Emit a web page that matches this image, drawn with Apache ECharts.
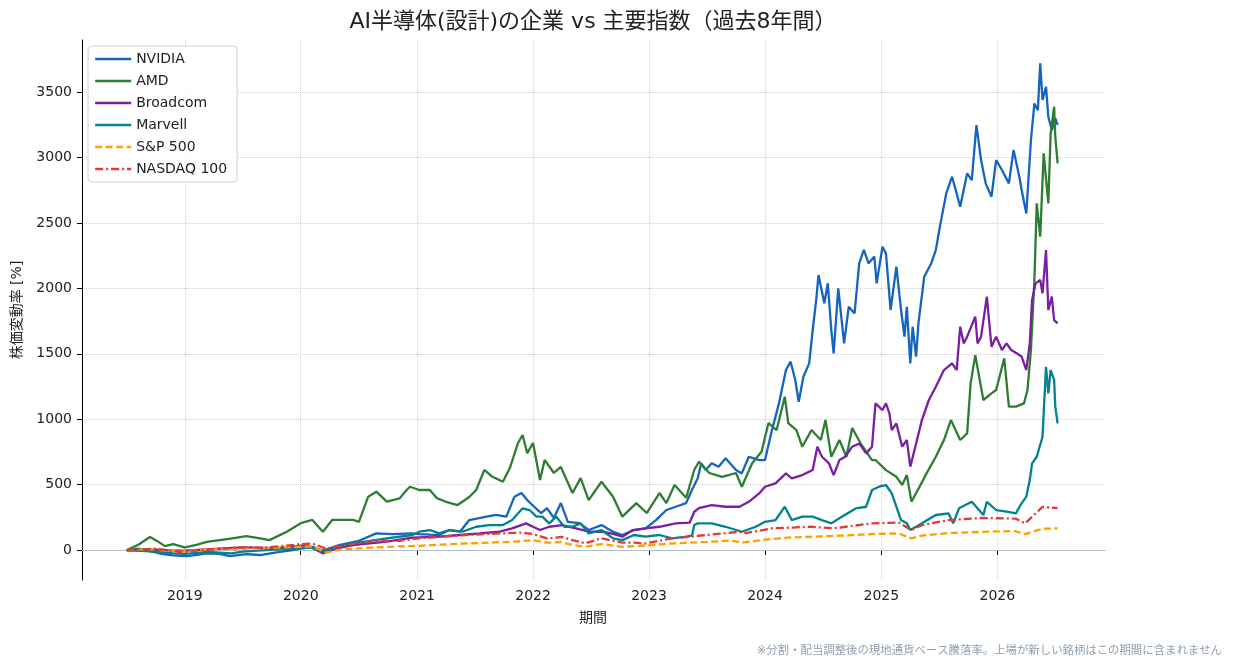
<!DOCTYPE html>
<html><head><meta charset="utf-8">
<script src="https://cdn.jsdelivr.net/npm/echarts@6/dist/echarts.min.js"></script>
<style>html,body{margin:0;padding:0;background:#fff}#c{width:1234px;height:668px}</style>
</head><body><div id="c"></div><script>
const FONT = '"DejaVu Sans","Noto Sans CJK JP",sans-serif';
const titleText = 'AI半導体(設計)の企業 vs 主要指数（過去8年間）';
const yAxisName = '株価変動率 [%]';
const xAxisName = '期間';
const footnote = '※分割・配当調整後の現地通貨ベース騰落率。上場が新しい銘柄はこの期間に含まれません';
const seriesNames = ['NVIDIA', 'AMD', 'Broadcom', 'Marvell', 'S&P 500', 'NASDAQ 100'];
const seriesColors = ['#1565C0', '#2E7D32', '#7B1FA2', '#00838F', '#FFA000', '#E53935'];

// [decimal year, % change]
const nvidia = [[2018.50,0],[2018.60,10],[2018.72,-12],[2018.80,-30],[2018.90,-40],[2019.02,-46],[2019.12,-35],[2019.19,-25],[2019.30,-30],[2019.39,-46],[2019.53,-31],[2019.65,-38],[2019.79,-18],[2019.93,0],[2020.00,13],[2020.10,25],[2020.19,-5],[2020.33,38],[2020.50,71],[2020.65,127],[2020.79,122],[2020.96,127],[2021.02,122],[2021.11,118],[2021.19,115],[2021.28,153],[2021.37,140],[2021.45,229],[2021.60,255],[2021.68,268],[2021.77,255],[2021.84,408],[2021.90,436],[2021.95,382],[2022.01,331],[2022.07,283],[2022.12,321],[2022.18,245],[2022.24,359],[2022.30,216],[2022.40,206],[2022.48,153],[2022.59,191],[2022.69,140],[2022.77,115],[2022.87,153],[2022.97,165],[2023.06,229],[2023.15,306],[2023.23,331],[2023.32,359],[2023.37,459],[2023.42,548],[2023.45,663],[2023.49,612],[2023.54,663],[2023.60,637],[2023.66,701],[2023.75,612],[2023.80,586],[2023.86,713],[2023.95,688],[2024.00,688],[2024.06,917],[2024.12,1121],[2024.18,1376],[2024.22,1440],[2024.26,1300],[2024.29,1134],[2024.33,1325],[2024.38,1427],[2024.41,1682],[2024.44,1911],[2024.46,2102],[2024.51,1886],[2024.54,2039],[2024.57,1682],[2024.59,1503],[2024.63,2000],[2024.68,1580],[2024.72,1860],[2024.77,1809],[2024.81,2192],[2024.85,2294],[2024.89,2192],[2024.94,2243],[2024.96,2039],[2025.01,2319],[2025.04,2268],[2025.08,1835],[2025.13,2166],[2025.17,1835],[2025.20,1631],[2025.22,1860],[2025.25,1427],[2025.27,1707],[2025.30,1478],[2025.32,1733],[2025.37,2089],[2025.43,2191],[2025.47,2293],[2025.51,2497],[2025.56,2726],[2025.61,2854],[2025.65,2726],[2025.68,2624],[2025.74,2879],[2025.78,2828],[2025.82,3249],[2025.86,2981],[2025.90,2803],[2025.95,2701],[2025.99,2981],[2026.04,2905],[2026.10,2803],[2026.14,3058],[2026.19,2854],[2026.21,2752],[2026.25,2573],[2026.29,3134],[2026.32,3414],[2026.35,3363],[2026.37,3720],[2026.39,3440],[2026.42,3542],[2026.44,3312],[2026.47,3210],[2026.50,3300],[2026.52,3250]];
const amd = [[2018.50,0],[2018.60,40],[2018.70,100],[2018.76,70],[2018.83,30],[2018.90,45],[2019.00,20],[2019.10,40],[2019.19,63],[2019.30,76],[2019.41,90],[2019.53,107],[2019.65,90],[2019.73,76],[2019.88,140],[2020.00,205],[2020.10,230],[2020.19,140],[2020.27,230],[2020.45,230],[2020.50,216],[2020.58,408],[2020.65,446],[2020.74,370],[2020.85,395],[2020.91,459],[2020.94,484],[2021.02,459],[2021.11,459],[2021.17,397],[2021.25,369],[2021.35,344],[2021.45,405],[2021.51,459],[2021.58,612],[2021.65,560],[2021.74,522],[2021.80,627],[2021.87,818],[2021.91,879],[2021.95,741],[2022.00,818],[2022.06,535],[2022.10,688],[2022.18,589],[2022.24,635],[2022.34,436],[2022.41,550],[2022.48,382],[2022.59,522],[2022.69,408],[2022.77,255],[2022.89,359],[2022.98,283],[2023.09,436],[2023.15,359],[2023.22,497],[2023.32,400],[2023.39,612],[2023.43,675],[2023.52,589],[2023.63,560],[2023.75,589],[2023.80,484],[2023.89,665],[2023.97,752],[2024.03,971],[2024.10,917],[2024.17,1172],[2024.20,971],[2024.27,917],[2024.32,790],[2024.40,917],[2024.48,841],[2024.52,994],[2024.57,713],[2024.64,841],[2024.70,713],[2024.75,933],[2024.82,818],[2024.92,688],[2024.95,688],[2025.04,611],[2025.13,560],[2025.18,497],[2025.22,573],[2025.26,370],[2025.33,484],[2025.39,586],[2025.47,713],[2025.54,841],[2025.60,994],[2025.64,917],[2025.68,841],[2025.74,892],[2025.77,1274],[2025.81,1490],[2025.88,1147],[2025.95,1198],[2025.99,1223],[2026.06,1465],[2026.10,1096],[2026.16,1096],[2026.23,1121],[2026.26,1223],[2026.29,1529],[2026.32,2064],[2026.34,2650],[2026.37,2395],[2026.40,3032],[2026.44,2650],[2026.46,3185],[2026.49,3389],[2026.50,3160],[2026.52,2956]];
const broadcom = [[2018.50,-5],[2018.70,5],[2018.90,-5],[2019.00,-5],[2019.30,10],[2019.50,20],[2019.80,15],[2020.05,38],[2020.19,-25],[2020.30,10],[2020.45,38],[2020.74,64],[2020.96,95],[2021.19,102],[2021.37,115],[2021.54,127],[2021.71,140],[2021.82,166],[2021.94,204],[2022.00,178],[2022.06,153],[2022.14,178],[2022.25,191],[2022.37,166],[2022.48,140],[2022.60,140],[2022.70,122],[2022.77,102],[2022.86,153],[2022.97,166],[2023.09,178],[2023.23,204],[2023.35,209],[2023.39,293],[2023.43,320],[2023.54,344],[2023.66,331],[2023.78,331],[2023.86,369],[2023.95,433],[2024.00,484],[2024.09,510],[2024.18,586],[2024.23,548],[2024.32,573],[2024.41,612],[2024.45,790],[2024.49,713],[2024.55,663],[2024.59,573],[2024.64,688],[2024.69,713],[2024.75,790],[2024.81,815],[2024.87,739],[2024.92,790],[2024.95,1121],[2025.01,1070],[2025.04,1121],[2025.07,1045],[2025.09,917],[2025.13,968],[2025.18,790],[2025.22,841],[2025.25,637],[2025.30,815],[2025.35,994],[2025.41,1147],[2025.47,1249],[2025.54,1376],[2025.61,1427],[2025.65,1376],[2025.68,1707],[2025.71,1580],[2025.74,1631],[2025.81,1784],[2025.83,1580],[2025.86,1631],[2025.91,1937],[2025.95,1554],[2025.99,1631],[2026.04,1529],[2026.08,1580],[2026.12,1529],[2026.17,1503],[2026.21,1478],[2026.25,1376],[2026.28,1580],[2026.30,1911],[2026.33,2038],[2026.37,2064],[2026.39,1962],[2026.42,2293],[2026.44,1835],[2026.47,1937],[2026.49,1758],[2026.52,1733]];
const marvell = [[2018.50,0],[2018.70,-10],[2018.90,-25],[2019.00,-30],[2019.20,-15],[2019.40,-25],[2019.50,-12],[2019.80,5],[2020.00,13],[2020.10,20],[2020.19,-12],[2020.30,20],[2020.45,51],[2020.74,89],[2020.96,115],[2021.02,140],[2021.11,153],[2021.19,127],[2021.28,153],[2021.39,140],[2021.51,178],[2021.62,191],[2021.74,191],[2021.82,229],[2021.91,319],[2021.97,306],[2022.03,255],[2022.08,255],[2022.14,204],[2022.20,255],[2022.27,178],[2022.34,178],[2022.41,204],[2022.48,127],[2022.59,153],[2022.69,89],[2022.77,76],[2022.87,115],[2022.97,102],[2023.09,115],[2023.20,89],[2023.32,102],[2023.37,110],[2023.39,191],[2023.42,204],[2023.54,204],[2023.66,178],[2023.80,140],[2023.92,178],[2024.00,216],[2024.09,229],[2024.17,331],[2024.23,229],[2024.32,255],[2024.41,255],[2024.49,229],[2024.57,204],[2024.66,255],[2024.78,318],[2024.87,331],[2024.92,459],[2024.98,484],[2025.04,497],[2025.09,433],[2025.12,357],[2025.17,229],[2025.22,204],[2025.25,153],[2025.30,178],[2025.35,204],[2025.47,268],[2025.58,280],[2025.62,204],[2025.67,319],[2025.78,369],[2025.88,268],[2025.91,369],[2025.99,306],[2026.08,293],[2026.16,280],[2026.20,344],[2026.25,408],[2026.28,535],[2026.30,662],[2026.34,713],[2026.39,866],[2026.42,1401],[2026.44,1198],[2026.46,1376],[2026.49,1300],[2026.50,1096],[2026.52,968]];
const sp500 = [[2018.50,0],[2018.75,8],[2018.97,-12],[2019.10,0],[2019.30,10],[2019.40,5],[2019.60,12],[2019.90,22],[2020.10,28],[2020.22,-20],[2020.35,5],[2020.60,18],[2020.85,28],[2021.00,32],[2021.40,50],[2021.84,64],[2022.00,75],[2022.12,56],[2022.25,60],[2022.34,38],[2022.45,25],[2022.59,46],[2022.77,25],[2022.97,35],[2023.20,50],[2023.50,62],[2023.70,72],[2023.82,58],[2024.00,80],[2024.20,95],[2024.50,105],[2024.70,112],[2024.92,122],[2025.15,127],[2025.26,89],[2025.35,110],[2025.58,130],[2025.98,142],[2026.15,145],[2026.24,122],[2026.39,163],[2026.52,165]];
const nasdaq100 = [[2018.50,0],[2018.75,10],[2018.97,-15],[2019.20,5],[2019.50,20],[2019.70,18],[2020.00,45],[2020.10,50],[2020.22,10],[2020.40,40],[2020.60,65],[2020.74,70],[2020.85,71],[2021.02,89],[2021.42,115],[2021.71,127],[2021.90,133],[2022.00,122],[2022.12,89],[2022.25,100],[2022.34,76],[2022.45,51],[2022.59,89],[2022.77,56],[2022.87,56],[2022.97,51],[2023.20,89],[2023.50,115],[2023.78,140],[2023.82,127],[2024.06,166],[2024.40,178],[2024.59,166],[2024.92,204],[2025.15,210],[2025.26,153],[2025.35,190],[2025.58,229],[2025.87,245],[2026.16,240],[2026.24,204],[2026.39,330],[2026.52,320]];
const seriesData = [nvidia, amd, broadcom, marvell, sp500, nasdaq100];
const lineTypes = ['solid', 'solid', 'solid', 'solid', [7, 3.5], [8, 3, 2, 3]];
const xRange = [2018.114, 2026.92];
const yRange = [-229, 3899];

function toTime(y) {
  const Y = Math.floor(y);
  const s = new Date(Y, 0, 1).getTime();
  const e = new Date(Y + 1, 0, 1).getTime();
  return s + (y - Y) * (e - s);
}
const YEAR = 365.25 * 86400000;

const chart = echarts.init(document.getElementById('c'), null, { renderer: 'canvas' });
const series = seriesNames.map((name, i) => {
  const s = {
    name, type: 'line', showSymbol: false, symbol: 'none', smooth: false,
    data: seriesData[i].map(p => [toTime(p[0]), p[1]]),
    lineStyle: { color: seriesColors[i], width: 2.3, type: lineTypes[i] },
    itemStyle: { color: seriesColors[i] },
    emphasis: { disabled: true }, animation: false, z: 3 + i
  };
  if (i === 0) {
    s.markLine = { silent: true, symbol: 'none', label: { show: false },
      lineStyle: { color: '#aebccb', width: 1.2, type: 'solid' }, data: [{ yAxis: 0 }], z: 1 };
  }
  return s;
});

chart.setOption({
  animation: false,
  backgroundColor: '#fff',
  textStyle: { fontFamily: FONT },
  grid: { left: 82, right: 130, top: 40, bottom: 88, containLabel: false },
  graphic: [
    { type: 'text', x: 593, y: 22, style: { text: titleText, font: '22px ' + FONT, fill: '#222', align: 'center', verticalAlign: 'middle' } },
    { type: 'text', x: 1222, y: 651, style: { text: footnote, font: '11.4px ' + FONT, fill: '#90a0ae', align: 'right', verticalAlign: 'middle' } }
  ],
  legend: {
    orient: 'vertical', left: 88, top: 46, padding: [6, 10, 6, 6],
    itemWidth: 36, itemHeight: 14, itemGap: 8,
    itemStyle: { opacity: 0 },
    lineStyle: { width: 2.3 },
    borderColor: '#d0d0d0', borderWidth: 1, borderRadius: 4,
    backgroundColor: 'rgba(255,255,255,0.85)',
    textStyle: { fontSize: 14, color: '#222', fontFamily: FONT },
    data: seriesNames
  },
  xAxis: {
    type: 'time', min: toTime(xRange[0]), max: toTime(xRange[1]),
    minInterval: YEAR * 0.99, maxInterval: YEAR * 1.01,
    name: xAxisName, nameLocation: 'middle', nameGap: 31,
    nameTextStyle: { fontSize: 14, color: '#222', fontFamily: FONT },
    axisLine: { show: true, lineStyle: { color: '#000', width: 1 } },
    axisTick: { show: true, length: 5, lineStyle: { color: '#000' } },
    axisLabel: { fontSize: 14, color: '#222', margin: 9, showMinLabel: false, showMaxLabel: false,
      formatter: v => String(new Date(v).getFullYear()) },
    splitLine: { show: true, showMinLine: false, showMaxLine: false, lineStyle: { color: '#d0d0d0', type: 'dotted', width: 1 } }
  },
  yAxis: {
    type: 'value', min: yRange[0], max: yRange[1],
    minInterval: 500, maxInterval: 500,
    name: yAxisName, nameLocation: 'middle', nameGap: 58, nameRotate: 90,
    nameTextStyle: { fontSize: 14, color: '#222', fontFamily: FONT },
    axisLine: { show: true, onZero: false, lineStyle: { color: '#000', width: 1 } },
    axisTick: { show: true, length: 5, lineStyle: { color: '#000' } },
    axisLabel: { fontSize: 14, color: '#222', margin: 10, showMinLabel: false, showMaxLabel: false,
      formatter: v => String(Math.round(v)) },
    splitLine: { show: true, showMinLine: false, showMaxLine: false, lineStyle: { color: '#d0d0d0', type: 'dotted', width: 1 } }
  },
  series
});
</script></body></html>
